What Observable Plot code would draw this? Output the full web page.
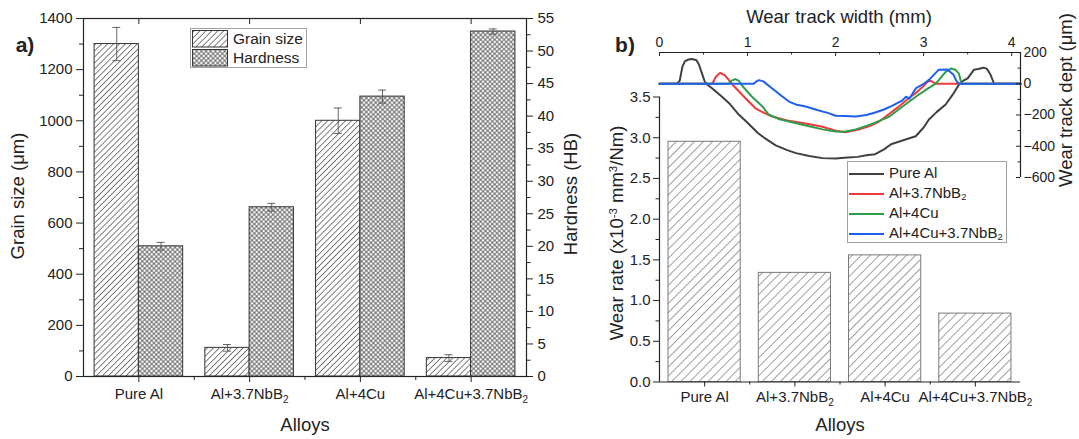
<!DOCTYPE html>
<html><head><meta charset="utf-8">
<script src="https://cdn.jsdelivr.net/npm/d3@7"></script>
<script src="https://cdn.jsdelivr.net/npm/@observablehq/plot@0.6"></script>
<style>
body{margin:0;background:#fff;font-family:'Liberation Sans',Arial,sans-serif;}
#root{position:relative;width:1079px;height:439px;overflow:hidden;background:#fff;}
#root svg.p{position:absolute;top:0;}
.lbl{position:absolute;white-space:nowrap;color:#222;font-size:18.5px;line-height:1;}
.rot{transform:translate(-50%,-50%) rotate(-90deg);}
.ctr{transform:translate(-50%,-50%);}
.bold{font-weight:bold;font-size:21px;}
.legend{position:absolute;background:#fff;border:1px solid #a0a0a0;color:#222;box-sizing:border-box;}
.row{position:absolute;left:0;white-space:nowrap;line-height:1;}
sup{font-size:0.62em;vertical-align:0.5em;line-height:0;}
sub{font-size:0.62em;vertical-align:-0.25em;line-height:0;}
</style></head><body>
<svg width="0" height="0" style="position:absolute">
<defs>
<pattern id="hatchA" patternUnits="userSpaceOnUse" width="4.2" height="4.2" patternTransform="rotate(45)"><rect width="4.2" height="4.2" fill="#fff"/><line x1="2.1" y1="0" x2="2.1" y2="4.2" stroke="#555" stroke-width="0.75"/></pattern>
<pattern id="cross" patternUnits="userSpaceOnUse" width="3.3" height="3.3" patternTransform="rotate(45)"><rect width="3.3" height="3.3" fill="#fff"/><path d="M1.65,0V3.3M0,1.65H3.3" stroke="#444" stroke-width="0.75"/></pattern>
<pattern id="hatchB" patternUnits="userSpaceOnUse" width="6.4" height="6.4" patternTransform="rotate(45)"><rect width="6.4" height="6.4" fill="#fff"/><line x1="3.2" y1="0" x2="3.2" y2="6.4" stroke="#8a8a8a" stroke-width="0.8"/></pattern>
</defs></svg>
<div id="root"></div>
<script>
// ---------------- data ----------------
const alloys = ["Pure Al", "Al+3.7NbB₂", "Al+4Cu", "Al+4Cu+3.7NbB₂"];
const grainSize = [1300, 112, 1000, 72];
const grainErr = [65, 13, 50, 13];
const hardness = [20, 26, 43, 53];
const hardnessErr = [0.6, 0.6, 1.0, 0.4];
const wearRate = [2.95, 1.34, 1.555, 0.84];

const grainTicks = [0, 200, 400, 600, 800, 1000, 1200, 1400];
const grainMinor = [100, 300, 500, 700, 900, 1100, 1300];
const hardnessTicks = [0, 5, 10, 15, 20, 25, 30, 35, 40, 45, 50, 55];
const hardnessMinor = [2.5, 7.5, 12.5, 17.5, 22.5, 27.5, 32.5, 37.5, 42.5, 47.5, 52.5];
const wearTicks = [0, 0.5, 1, 1.5, 2, 2.5, 3, 3.5];
const wearMinor = [0.25, 0.75, 1.25, 1.75, 2.25, 2.75, 3.25];
const widthTicks = [0, 1, 2, 3, 4];
const widthMinor = [0.5, 1.5, 2.5, 3.5];
const depthTicks = [-600, -400, -200, 0, 200];
const depthMinor = [-500, -300, -100, 100];

const profileNames = ["Pure Al", "Al+3.7NbB₂", "Al+4Cu", "Al+4Cu+3.7NbB₂"];
const profileColors = ["#404040", "#f03a3a", "#2f9c4c", "#1f5ff0"];
const profilePureAl = [[0,0],[0.2,0],[0.23,20],[0.26,110],[0.29,145],[0.33,155],[0.37,158],[0.42,150],[0.45,120],[0.48,70],[0.51,20],[0.53,0],[0.6,-30],[0.71,-83],[0.8,-130],[0.9,-197],[1.0,-250],[1.12,-317],[1.2,-350],[1.32,-394],[1.45,-425],[1.55,-444],[1.7,-462],[1.85,-476],[2.0,-478],[2.1,-474],[2.25,-468],[2.35,-458],[2.45,-451],[2.55,-420],[2.63,-387],[2.75,-365],[2.91,-336],[3.0,-280],[3.06,-229],[3.15,-180],[3.25,-133],[3.33,-70],[3.4,-6],[3.45,20],[3.5,34],[3.57,89],[3.62,95],[3.68,103],[3.72,95],[3.76,57],[3.8,0],[4.1,0]];
const profileNb = [[0,0],[0.6,0],[0.64,45],[0.69,70],[0.74,55],[0.8,15],[0.83,-6],[0.96,-83],[1.09,-157],[1.2,-190],[1.28,-210],[1.45,-235],[1.66,-254],[1.85,-275],[2.0,-300],[2.11,-311],[2.25,-295],[2.38,-273],[2.5,-240],[2.6,-197],[2.72,-145],[2.83,-93],[2.92,-55],[2.99,-19],[3.05,15],[3.08,19],[3.14,0],[4.1,0]];
const profileCu = [[0,0],[0.78,0],[0.82,20],[0.86,30],[0.9,20],[0.95,-20],[1.05,-83],[1.17,-146],[1.24,-197],[1.35,-225],[1.47,-241],[1.65,-265],[1.85,-292],[2.0,-305],[2.1,-307],[2.23,-292],[2.4,-260],[2.6,-214],[2.75,-150],[2.91,-83],[3.05,-30],[3.14,2],[3.25,76],[3.31,97],[3.36,90],[3.4,65],[3.43,0],[4.1,0]];
const profileCuNb = [[0,0],[1.07,0],[1.1,15],[1.13,23],[1.18,15],[1.28,-30],[1.38,-75],[1.47,-114],[1.56,-135],[1.66,-146],[1.8,-170],[1.92,-188],[2.0,-205],[2.1,-207],[2.23,-210],[2.35,-200],[2.45,-184],[2.55,-165],[2.64,-142],[2.75,-110],[2.8,-83],[2.84,-95],[2.91,-30],[3.0,0],[3.06,25],[3.12,60],[3.17,89],[3.27,91],[3.34,57],[3.37,20],[3.4,0],[4.1,0]];
const profiles = [profilePureAl, profileNb, profileCu, profileCuNb];

// ---------------- tables ----------------
const grainRows = alloys.map((a, i) => ({i, v: grainSize[i], e: grainErr[i]}));
const hardRows = alloys.map((a, i) => ({i, v: hardness[i], e: hardnessErr[i]}));
const wearRows = alloys.map((a, i) => ({i, v: wearRate[i]}));
const catIdx = alloys.map((a, i) => i);
const catMinor = [0.5, 1.5, 2.5];

const font = "'Liberation Sans', Arial, sans-serif";
const baseStyle = {fontFamily: font, fontSize: "15px", color: "#222", background: "transparent", overflow: "visible"};
const root = document.getElementById("root");
const ink = "#222";
const fs = 15;

function errMarks(rows, off) {
  return [
    Plot.ruleX(rows, {x: d => d.i + off, y1: d => d.v - d.e, y2: d => d.v + d.e, stroke: "#555", strokeWidth: 0.9}),
    Plot.ruleY(rows, {y: d => d.v + d.e, x1: d => d.i + off - 0.036, x2: d => d.i + off + 0.036, stroke: "#555", strokeWidth: 0.9}),
    Plot.ruleY(rows, {y: d => d.v - d.e, x1: d => d.i + off - 0.036, x2: d => d.i + off + 0.036, stroke: "#555", strokeWidth: 0.9})
  ];
}

// ---------- panel a : grain size ----------
const dimA = {width: 600, height: 439, marginLeft: 83, marginRight: 74, marginTop: 18, marginBottom: 63};
const a1 = Plot.plot({
  ...dimA, style: baseStyle,
  x: {domain: [-0.5, 3.5], label: null},
  y: {domain: [0, 1400], label: null},
  marks: [
    Plot.rectY(grainRows, {x1: d => d.i - 0.4, x2: d => d.i, y1: 0, y2: "v", fill: "url(#hatchA)", stroke: "#333", strokeWidth: 1}),
    ...errMarks(grainRows, -0.2),
    Plot.frame({stroke: ink, strokeWidth: 1.2}),
    Plot.axisY({ticks: grainTicks, tickFormat: d3.format("d"), tickSize: 7, tickPadding: 4, label: null, stroke: ink, fontSize: fs}),
    Plot.axisY({ticks: grainMinor, tickFormat: () => "", tickSize: 4, label: null, stroke: ink}),
    Plot.axisX({ticks: catIdx, tickFormat: i => alloys[i], tickSize: 6, tickPadding: 6, label: null, stroke: ink, fontSize: fs}),
    Plot.axisX({ticks: catMinor, tickFormat: () => "", tickSize: 4, label: null, stroke: ink}),
    Plot.ruleX(catIdx, {x: d => d, y1: 1400, y2: 1400, insetBottom: -6, stroke: ink})
  ]
});
// ---------- panel a : hardness ----------
const a2 = Plot.plot({
  ...dimA, style: baseStyle,
  x: {domain: [-0.5, 3.5], axis: null},
  y: {domain: [0, 55], label: null},
  marks: [
    Plot.rectY(hardRows, {x1: d => d.i, x2: d => d.i + 0.4, y1: 0, y2: "v", fill: "url(#cross)", stroke: "#333", strokeWidth: 1}),
    ...errMarks(hardRows, 0.2),
    Plot.axisY({anchor: "right", ticks: hardnessTicks, tickSize: 6, tickPadding: 5, label: null, stroke: ink, fontSize: fs}),
    Plot.axisY({anchor: "right", ticks: hardnessMinor, tickFormat: () => "", tickSize: 3.5, label: null, stroke: ink})
  ]
});

// ---------- panel b : wear rate bars ----------
const dimB = {width: 519, height: 439, marginLeft: 99, marginRight: 59};
const b1 = Plot.plot({
  ...dimB, marginTop: 96.5, marginBottom: 57.5, style: baseStyle,
  x: {domain: [-0.5, 3.5], label: null},
  y: {domain: [0, 3.5], label: null},
  marks: [
    Plot.rectY(wearRows, {x1: d => d.i - 0.4, x2: d => d.i + 0.4, y1: 0, y2: "v", fill: "url(#hatchB)", stroke: "#7a7a7a", strokeWidth: 1}),
    Plot.ruleY([0], {stroke: ink, strokeWidth: 1.2}),
    Plot.ruleX([-0.5], {stroke: ink, strokeWidth: 1.2}),
    Plot.axisY({ticks: wearTicks, tickFormat: d3.format(".1f"), tickSize: 6, tickPadding: 3, label: null, stroke: ink, fontSize: fs}),
    Plot.axisY({ticks: wearMinor, tickFormat: () => "", tickSize: 3.5, label: null, stroke: ink}),
    Plot.axisX({ticks: catIdx, tickFormat: i => alloys[i], tickSize: 5, tickPadding: 4, label: null, stroke: ink, fontSize: fs}),
    Plot.axisX({ticks: catMinor, tickFormat: () => "", tickSize: 3, label: null, stroke: ink})
  ]
});

// ---------- panel b : inset wear track profiles ----------
const b2 = Plot.plot({
  ...dimB, marginTop: 52, marginBottom: 262, style: baseStyle,
  x: {domain: [0, 4.1], label: null},
  y: {domain: [-600, 200], label: null},
  marks: [
    ...profiles.map((p, k) => Plot.line(p, {x: d => d[0], y: d => d[1], stroke: profileColors[k], strokeWidth: 2})),
    Plot.ruleY([200], {stroke: ink, strokeWidth: 1.2}),
    Plot.ruleX([4.1], {stroke: ink, strokeWidth: 1.2}),
    Plot.axisX({anchor: "top", ticks: widthTicks, tickFormat: d3.format("d"), tickSize: 0, tickPadding: 6, label: null, fontSize: 14}),
    Plot.ruleX(widthTicks, {x: d => d, y1: 200, y2: 200, insetBottom: -4, stroke: ink}),
    Plot.ruleX(widthMinor, {x: d => d, y1: 200, y2: 200, insetBottom: -2.5, stroke: ink}),
    Plot.axisY({anchor: "right", ticks: depthTicks, tickFormat: d3.format("d"), tickSize: 0, tickPadding: 3, label: null, fontSize: 14}),
    Plot.ruleY(depthTicks, {y: d => d, x1: 4.1, x2: 4.1, insetLeft: -4, stroke: ink}),
    Plot.ruleY(depthMinor, {y: d => d, x1: 4.1, x2: 4.1, insetLeft: -2.5, stroke: ink})
  ]
});

[[a1, 0], [a2, 0], [b1, 560], [b2, 560]].forEach(([svg, left]) => {
  svg.classList.add("p");
  svg.style.left = left + "px";
  root.appendChild(svg);
});

// subscripts in tick labels
root.querySelectorAll("text").forEach(t => {
  if (!t.textContent.includes("₂")) return;
  const s = t.textContent;
  t.textContent = "";
  s.split(/(₂)/).forEach(part => {
    if (!part) return;
    const ts = document.createElementNS("http://www.w3.org/2000/svg", "tspan");
    if (part === "₂") { ts.textContent = "2"; ts.setAttribute("font-size", "10"); ts.setAttribute("dy", "4"); }
    else ts.textContent = part;
    t.appendChild(ts);
  });
});

// ---------- titles & labels ----------
function label(html, x, y, cls) {
  const d = document.createElement("div");
  d.className = "lbl " + cls;
  d.style.left = x + "px"; d.style.top = y + "px";
  d.innerHTML = html;
  root.appendChild(d);
}
const sub2 = s => s.replace("₂", "<sub>2</sub>");
label("a)", 25, 44, "ctr bold");
label("b)", 625, 44, "ctr bold");
label("Grain size (μm)", 18, 196, "rot");
label("Hardness (HB)", 571, 194, "rot");
label("Alloys", 305, 425, "ctr");
label("Alloys", 840, 425, "ctr");
label("Wear rate (x10<sup>-3</sup> mm<sup>3</sup>/Nm)", 617, 233, "rot");
label("Wear track width (mm)", 839, 17, "ctr");
label("Wear track dept (μm)", 1066, 100, "rot");

// legend a
const legA = document.createElement("div");
legA.className = "legend";
Object.assign(legA.style, {left: "190px", top: "28px", width: "117px", height: "40px", fontSize: "15.5px"});
[["Grain size", "hatchA"], ["Hardness", "cross"]].forEach(([name, pat], k) => {
  const r = document.createElement("div");
  r.className = "row";
  r.style.top = (1 + k * 19) + "px";
  r.innerHTML = `<svg width="37" height="18" style="vertical-align:middle;margin-left:1px"><rect x="0.5" y="0.5" width="35" height="16.5" fill="url(#${pat})" stroke="#333"/></svg><span style="position:relative;left:4px;top:1px">${name}</span>`;
  legA.appendChild(r);
});
root.appendChild(legA);

// legend b
const legB = document.createElement("div");
legB.className = "legend";
Object.assign(legB.style, {left: "847px", top: "161px", width: "160px", height: "82px", fontSize: "15px"});
profileNames.forEach((name, k) => {
  const r = document.createElement("div");
  r.className = "row";
  r.style.top = (3 + k * 20) + "px";
  r.innerHTML = `<svg width="38" height="16" style="vertical-align:middle"><line x1="1" y1="8" x2="36" y2="8" stroke="${profileColors[k]}" stroke-width="2"/></svg><span style="position:relative;left:3px">${sub2(name)}</span>`;
  legB.appendChild(r);
});
root.appendChild(legB);
</script>
</body></html>
